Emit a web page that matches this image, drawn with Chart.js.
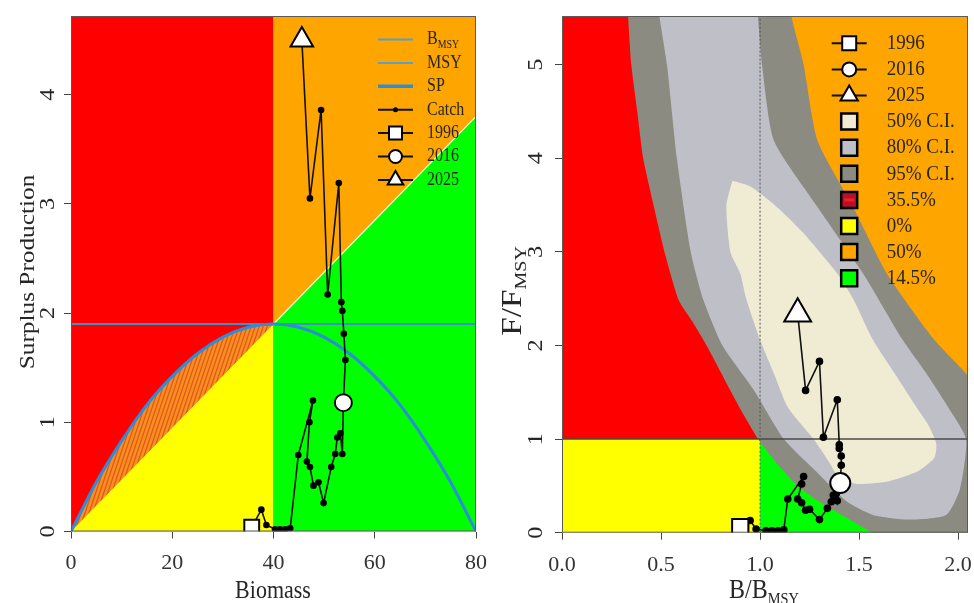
<!DOCTYPE html>
<html>
<head>
<meta charset="utf-8">
<script src="https://cdn.jsdelivr.net/npm/chart.js@4.4.1/dist/chart.umd.min.js"></script>
<style>
html, body { margin: 0; padding: 0; background: #fff; }
#wrap { position: relative; width: 974px; height: 603px; }
.panel { position: absolute; top: 0; width: 487px; height: 603px; }
#leftPanel { left: 0; }
#rightPanel { left: 487px; }
</style>
</head>
<body>
<div id="wrap">
  <div class="panel" id="leftPanel"><canvas id="spChart"></canvas></div>
  <div class="panel" id="rightPanel"><canvas id="kobeChart"></canvas></div>
</div>
<script>
// values
const years = [1996, 1997, 1998, 1999, 2000, 2001, 2002, 2003, 2004, 2005,
               2006, 2007, 2008, 2009, 2010, 2011, 2012, 2013, 2014, 2015,
               2016, 2017, 2018, 2019, 2020, 2021, 2022, 2023, 2024, 2025];
const biomass = [35.7, 37.6, 38.6, 40.3, 41.3, 42.3, 43.3, 44.9, 47.8, 47.1,
                 46.6, 47.2, 47.9, 48.9, 49.9, 51.4, 52.2, 52.6, 53.2, 53.6,
                 53.8, 54.2, 53.9, 53.6, 53.4, 52.9, 50.7, 49.4, 47.2, 45.6];
const catchSeries = [0.04, 0.20, 0.06, 0.02, 0.02, 0.02, 0.03, 0.70, 1.20, 1.00,
                     0.64, 0.59, 0.42, 0.45, 0.26, 0.59, 0.71, 0.86, 0.90, 0.71,
                     1.18, 1.57, 1.81, 2.02, 2.10, 3.19, 2.17, 3.86, 3.05, 4.50];
const bRatio = [0.90, 0.95, 0.98, 1.03, 1.06, 1.09, 1.12, 1.14, 1.22, 1.21,
                1.19, 1.21, 1.23, 1.25, 1.30, 1.34, 1.36, 1.37, 1.385, 1.39,
                1.405, 1.41, 1.41, 1.40, 1.40, 1.39, 1.32, 1.30, 1.23, 1.19];
const fRatio = [0.06, 0.13, 0.04, 0.02, 0.02, 0.02, 0.03, 0.36, 0.60, 0.52,
                0.36, 0.32, 0.24, 0.25, 0.14, 0.26, 0.33, 0.40, 0.42, 0.34,
                0.53, 0.72, 0.82, 0.90, 0.94, 1.42, 1.02, 1.83, 1.52, 2.34];
const markerYears = [1996, 2016, 2025];

const spBiomass = [0, 5, 10, 15, 20, 25, 30, 35, 40, 45, 50, 55, 60, 65, 70, 75, 80];
const spValues = [0, 0.45, 0.83, 1.16, 1.42, 1.63, 1.78, 1.87, 1.90, 1.87, 1.78, 1.63, 1.42, 1.16, 0.83, 0.45, 0];
const bmsyValue = 40;
const msyValue = 1.9;

// confidence regions (B/Bmsy, F/Fmsy outlines)
const ci95B = [0.33, 0.335, 0.35, 0.38, 0.41, 0.46, 0.52, 0.59, 0.66, 0.73, 0.85, 0.92, 0.99, 1.08, 1.19, 1.30, 1.42, 1.50, 1.56, 1.58, 2.20, 2.20, 2.10, 2.04, 1.88, 1.64, 1.47, 1.29, 1.22, 1.16, 1.14, 0.33];
const ci95F = [5.80, 5.47, 5.00, 4.50, 4.00, 3.52, 2.98, 2.48, 2.25, 2.00, 1.52, 1.25, 1.00, 0.75, 0.50, 0.33, 0.18, 0.08, 0.00, -0.20, -0.20, 1.50, 1.50, 1.70, 2.06, 2.77, 3.48, 4.19, 5.00, 5.50, 5.80, 5.80];
const ci80B = [0.47, 0.495, 0.53, 0.58, 0.65, 0.715, 0.81, 0.97, 1.12, 1.29, 1.44, 1.57, 1.75, 1.94, 2.01, 2.04, 1.95, 1.84, 1.72, 1.52, 1.29, 1.07, 1.01, 0.99, 0.98, 0.47];
const ci80F = [5.80, 5.47, 5.00, 4.00, 3.00, 2.48, 2.00, 1.52, 1.00, 0.64, 0.33, 0.19, 0.14, 0.19, 0.47, 1.00, 1.34, 1.70, 2.06, 2.77, 3.48, 4.19, 5.00, 5.50, 5.80, 5.80];
const ci50B = [0.86, 0.83, 0.85, 0.90, 0.93, 1.00, 1.07, 1.14, 1.27, 1.35, 1.40, 1.50, 1.65, 1.80, 1.88, 1.89, 1.85, 1.79, 1.68, 1.57, 1.47, 1.39, 1.22, 1.085, 0.95, 0.86];
const ci50F = [3.76, 3.50, 3.00, 2.77, 2.50, 2.06, 1.70, 1.34, 1.00, 0.75, 0.58, 0.52, 0.55, 0.66, 0.80, 0.95, 1.15, 1.34, 1.70, 2.06, 2.50, 2.77, 3.20, 3.48, 3.70, 3.76];

const leftXTicks = [0, 20, 40, 60, 80];
const leftYTicks = [0, 1, 2, 3, 4];
const rightXTicks = [0, 0.5, 1, 1.5, 2];
const rightYTicks = [0, 1, 2, 3, 4, 5];
const leftLegendLabels = ["B_MSY", "MSY", "SP", "Catch", "1996", "2016", "2025"];
const rightLegendLabels = ["1996", "2016", "2025", "50% C.I.", "80% C.I.", "95% C.I.", "35.5%", "0%", "50%", "14.5%"];

const serif = "'Liberation Serif', 'Times New Roman', serif";
const textColor = "#262626";
const stretch = 1.15;

const pts = (xs, ys) => xs.map((x, i) => ({x: x, y: ys[i]}));

function richText(ctx, str, x, y, size, align, rotate, subRatio) {
    let parts = str.split("_");
    let main = parts[0], sub = parts[1];
    let subSize = size * (subRatio || 0.7);
    ctx.save();
    ctx.translate(x, y);
    if (rotate) { ctx.rotate(-Math.PI / 2); ctx.scale(stretch, 1); }
    else { ctx.scale(1, stretch); }
    ctx.font = size + "px " + serif;
    let w1 = ctx.measureText(main).width;
    ctx.font = subSize + "px " + serif;
    let w2 = sub ? ctx.measureText(sub).width : 0;
    let x0 = align === "center" ? -(w1 + w2) / 2 : 0;
    ctx.textBaseline = "middle";
    ctx.textAlign = "left";
    ctx.fillStyle = textColor;
    ctx.font = size + "px " + serif;
    ctx.fillText(main, x0, 0);
    if (sub) {
        ctx.font = subSize + "px " + serif;
        ctx.fillText(sub, x0 + w1, size * 0.3);
    }
    ctx.restore();
}

function marker(ctx, shape, x, y, r, fill, lw) {
    ctx.beginPath();
    if (shape === "rect") ctx.rect(x - r, y - r, 2 * r, 2 * r);
    else if (shape === "circle") ctx.arc(x, y, r, 0, Math.PI * 2);
    else {
        ctx.moveTo(x, y - r);
        ctx.lineTo(x + r * 0.866, y + r * 0.5);
        ctx.lineTo(x - r * 0.866, y + r * 0.5);
        ctx.closePath();
    }
    ctx.fillStyle = fill;
    ctx.fill();
    ctx.lineWidth = lw;
    ctx.strokeStyle = "#000";
    ctx.stroke();
}

function hatchPattern() {
    let c = document.createElement("canvas");
    c.width = 4; c.height = 12;
    let g = c.getContext("2d");
    g.fillStyle = "#f8901f";
    g.fillRect(0, 0, 4, 12);
    g.strokeStyle = "#e3561d";
    g.lineWidth = 1.3;
    for (let k = -1; k <= 1; k++) {
        g.beginPath();
        g.moveTo(k * 4, 12);
        g.lineTo(k * 4 + 4, 0);
        g.stroke();
    }
    return g.createPattern(c, "repeat");
}

function zone(data, color, fill, order) {
    return {data: data, showLine: true, pointRadius: 0, borderWidth: 0,
            borderColor: "rgba(0,0,0,0)", backgroundColor: color, fill: fill, order: order};
}
function refLine(data, color, width, order, dash) {
    return {data: data, showLine: true, pointRadius: 0, borderWidth: width,
            borderColor: color, borderDash: dash || [], fill: false, order: order};
}
function trackSet(xs, ys, r) {
    return {data: pts(xs, ys), showLine: true, borderColor: "#111", borderWidth: 1.6,
            pointRadius: r, pointBackgroundColor: "#000", pointBorderWidth: 0,
            fill: false, order: 3, clip: 0};
}
function yearMarkers(xs, ys, sizes) {
    const styles = ["rect", "circle", "triangle"];
    return markerYears.map((yr, k) => {
        let i = years.indexOf(yr);
        return {data: [{x: xs[i], y: ys[i]}], showLine: false, pointStyle: styles[k],
                pointRadius: sizes[k], pointBackgroundColor: "#fff", pointBorderColor: "#000",
                pointBorderWidth: 2, order: 1, clip: 0};
    });
}

function axisScales(xMin, xMax, yMin, yMax, xTicks, yTicks, leftW, bottomH, fmt) {
    return {
        x: {
            type: "linear", min: xMin, max: xMax,
            afterBuildTicks: s => { s.ticks = xTicks.map(v => ({value: v})); },
            afterFit: s => { s.height = bottomH; s.paddingLeft = 0; s.paddingRight = 0; },
            grid: {display: true, drawOnChartArea: false, drawTicks: true, tickLength: 7, color: "#444", lineWidth: 1},
            border: {display: false},
            ticks: {font: {family: serif, size: 22}, color: "#333", padding: 12, maxRotation: 0,
                    callback: v => fmt(v)}
        },
        y: {
            type: "linear", min: yMin, max: yMax,
            afterBuildTicks: s => { s.ticks = yTicks.map(v => ({value: v})); },
            afterFit: s => { s.width = leftW; s.paddingTop = 0; s.paddingBottom = 0; },
            grid: {display: true, drawOnChartArea: false, drawTicks: true, tickLength: 7, color: "#444", lineWidth: 1},
            border: {display: false},
            ticks: {display: false}
        }
    };
}

function decorPlugin(cfg) {
    return {
        id: "decor",
        afterDraw(chart) {
            const ctx = chart.ctx;
            const a = chart.chartArea;
            ctx.save();
            ctx.strokeStyle = "#5a5a5a";
            ctx.lineWidth = 1;
            ctx.strokeRect(a.left + 0.5, a.top + 0.5, a.right - a.left - 1, a.bottom - a.top - 1);
            cfg.yTicks.forEach(v => {
                richText(ctx, String(v), cfg.yLabelX, chart.scales.y.getPixelForValue(v), 21, "center", true);
            });
            richText(ctx, cfg.yTitle, cfg.yTitleX, cfg.yTitleY, cfg.yTitleSize, "center", true, cfg.subRatio);
            richText(ctx, cfg.xTitle, cfg.xTitleX, cfg.xTitleY, cfg.titleSize, "center", false, cfg.subRatio);
            cfg.legend.labels.forEach((lab, i) => {
                const st = cfg.legend.styles[i];
                const L = cfg.legend;
                const y = L.y0 + i * L.dy;
                if (st.line) {
                    ctx.beginPath();
                    ctx.moveTo(L.x0, y);
                    ctx.lineTo(L.x1, y);
                    ctx.strokeStyle = st.line;
                    ctx.lineWidth = st.lw;
                    ctx.stroke();
                }
                if (st.dot) {
                    ctx.beginPath();
                    ctx.arc((L.x0 + L.x1) / 2, y, st.dot, 0, Math.PI * 2);
                    ctx.fillStyle = "#000";
                    ctx.fill();
                }
                if (st.marker) marker(ctx, st.marker, (L.x0 + L.x1) / 2, y, st.r, "#fff", 2);
                if (st.box) {
                    marker(ctx, "rect", (L.x0 + L.x1) / 2, y, L.box, st.box, 2.5);
                    if (st.bar) {
                        ctx.fillStyle = st.bar;
                        ctx.fillRect((L.x0 + L.x1) / 2 - 5, y - 1.5, 10, 3);
                    }
                }
                richText(ctx, lab, L.textX, y, L.size, "left", false, 0.62);
            });
            ctx.restore();
        }
    };
}

// ---------- left panel: surplus production ----------
const lx = [0, 80], ly = [0, 4.72];
const hatch = hatchPattern();
const spLeft = spBiomass.filter(b => b <= bmsyValue);

new Chart(document.getElementById("spChart"), {
    type: "line",
    data: {
        datasets: [
            zone([{x: lx[0], y: ly[1]}, {x: bmsyValue, y: ly[1]}], "#ff0000", "start", 20),
            zone([{x: bmsyValue, y: ly[1]}, {x: lx[1], y: ly[1]}], "#ffa500", "start", 20),
            Object.assign(zone([{x: bmsyValue, y: msyValue}, {x: lx[1], y: msyValue * lx[1] / bmsyValue}], "#00ff00", "start", 19),
                          {borderColor: "rgba(255,255,255,0.85)", borderWidth: 1.2}),
            Object.assign(zone(pts(spLeft, spValues.slice(0, spLeft.length)), hatch, "start", 18),
                          {cubicInterpolationMode: "monotone"}),
            zone([{x: 0, y: 0}, {x: bmsyValue, y: msyValue}], "#ffff00", "start", 17),
            refLine([{x: bmsyValue, y: ly[0]}, {x: bmsyValue, y: ly[1]}], "rgba(80,150,195,0.55)", 1, 16),
            refLine([{x: lx[0], y: msyValue}, {x: lx[1], y: msyValue}], "#3f90c4", 2, 15),
            Object.assign(refLine(pts(spBiomass, spValues), "#2d8ddb", 3, 14), {cubicInterpolationMode: "monotone"}),
            trackSet(biomass, catchSeries, 3.3),
            ...yearMarkers(biomass, catchSeries, [10.5, 8.5, 13])
        ]
    },
    options: {
        responsive: true, maintainAspectRatio: false, animation: false, devicePixelRatio: 1,
        events: [],
        layout: {autoPadding: false, padding: {left: 0, right: 11, top: 16, bottom: 0}},
        plugins: {legend: {display: false}, tooltip: {enabled: false}},
        scales: axisScales(lx[0], lx[1], ly[0], ly[1], leftXTicks, leftYTicks, 71, 71.5, v => String(v))
    },
    plugins: [decorPlugin({
        yTicks: leftYTicks, yLabelX: 48,
        yTitle: "Surplus Production", yTitleX: 28, yTitleY: 272, yTitleSize: 22,
        xTitle: "Biomass", xTitleX: 273, xTitleY: 591, titleSize: 22, subRatio: 0.65,
        legend: {
            labels: leftLegendLabels, x0: 378, x1: 413, textX: 427, y0: 39.5, dy: 23.4, size: 16, box: 0,
            styles: [
                {line: "#5b9ec9", lw: 2},
                {line: "#5b9ec9", lw: 2},
                {line: "#2e8ddb", lw: 3.5},
                {line: "#111", lw: 2, dot: 2.5},
                {line: "#111", lw: 2, marker: "rect", r: 6.5},
                {line: "#111", lw: 2, marker: "circle", r: 6.5},
                {line: "#111", lw: 2, marker: "triangle", r: 9}
            ]
        }
    })]
});

// ---------- right panel: Kobe plot ----------
const rx = [0, 2.05], ry = [0, 5.52];

new Chart(document.getElementById("kobeChart"), {
    type: "line",
    data: {
        datasets: [
            zone([{x: rx[0], y: ry[1]}, {x: 1, y: ry[1]}], "#ff0000", {value: 1}, 20),
            zone([{x: rx[0], y: 1}, {x: 1, y: 1}], "#ffff00", "start", 20),
            zone([{x: 1, y: ry[1]}, {x: rx[1], y: ry[1]}], "#ffa500", {value: 1}, 20),
            zone([{x: 1, y: 1}, {x: rx[1], y: 1}], "#00ff00", "start", 20),
            Object.assign(zone(pts(ci95B, ci95F), "#8b8b81", "shape", 18), {tension: 0.2}),
            Object.assign(zone(pts(ci80B, ci80F), "#bebfc7", "shape", 17), {tension: 0.2}),
            Object.assign(zone(pts(ci50B, ci50F), "#f0ebd3", "shape", 16), {tension: 0.2}),
            refLine([{x: 1, y: ry[0]}, {x: 1, y: ry[1]}], "#555", 1, 15, [2, 2]),
            refLine([{x: rx[0], y: 1}, {x: rx[1], y: 1}], "#4a4a4a", 1.5, 15),
            trackSet(bRatio, fRatio, 3.8),
            ...yearMarkers(bRatio, fRatio, [11.5, 10, 15.5])
        ]
    },
    options: {
        responsive: true, maintainAspectRatio: false, animation: false, devicePixelRatio: 1,
        events: [],
        layout: {autoPadding: false, padding: {left: 0, right: 6, top: 16, bottom: 0}},
        plugins: {legend: {display: false}, tooltip: {enabled: false}},
        scales: axisScales(rx[0], rx[1], ry[0], ry[1], rightXTicks, rightYTicks, 75, 70.3, v => v.toFixed(1))
    },
    plugins: [decorPlugin({
        yTicks: rightYTicks, yLabelX: 49,
        yTitle: "F/F_MSY", yTitleX: 26, yTitleY: 291, yTitleSize: 29,
        xTitle: "B/B_MSY", xTitleX: 277, xTitleY: 591, titleSize: 24, subRatio: 0.6,
        legend: {
            labels: rightLegendLabels, x0: 344.7, x1: 379.7, textX: 399.7, y0: 43.3, dy: 26.1, size: 19, box: 8,
            styles: [
                {line: "#111", lw: 2, marker: "rect", r: 7},
                {line: "#111", lw: 2, marker: "circle", r: 7},
                {line: "#111", lw: 2, marker: "triangle", r: 10},
                {box: "#f0ebd3"},
                {box: "#bebfc7"},
                {box: "#8b8b81"},
                {box: "#b3122e", bar: "#ff1a1a"},
                {box: "#ffff00"},
                {box: "#ffa500"},
                {box: "#00ff00"}
            ]
        }
    })]
});
</script>
</body>
</html>
